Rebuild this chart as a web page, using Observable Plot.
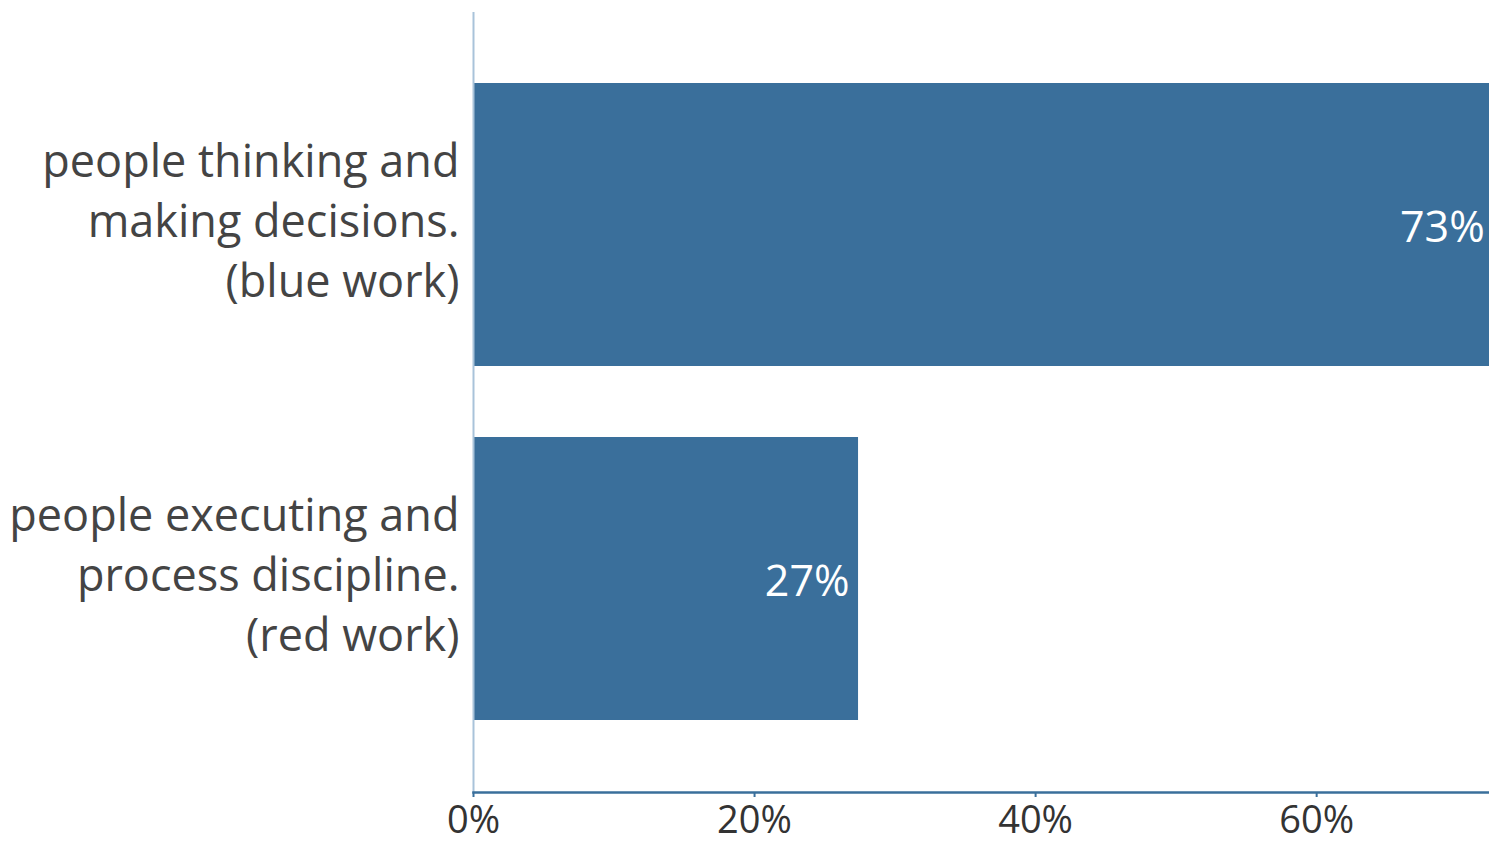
<!DOCTYPE html>
<html>
<head>
<meta charset="utf-8">
<script src="https://cdn.jsdelivr.net/npm/d3@7"></script>
<script src="https://cdn.jsdelivr.net/npm/@observablehq/plot@0.6"></script>
<style>
  html, body { margin: 0; padding: 0; background: #fff; overflow: hidden; }
  #chart svg { display: block; }
</style>
</head>
<body>
<div id="chart"></div>
<script>
const categories = [
  "people thinking and\nmaking decisions.\n(blue work)",
  "people executing and\nprocess discipline.\n(red work)"
];
const shares = [0.726, 0.274];
const valueLabels = ["73%", "27%"];
const xTicks = [0, 0.2, 0.4, 0.6];

const data = categories.map((c, i) => ({category: c, share: shares[i], label: valueLabels[i]}));
const barColor = "#3a6f9b";

const chart = Plot.plot({
  width: 1489,
  height: 846,
  marginTop: 12,
  marginBottom: 54,
  marginLeft: 473,
  marginRight: 0,
  style: {fontFamily: "'Open Sans', 'Noto Sans', sans-serif", background: "#fff", overflow: "hidden"},
  x: {domain: [0, 0.723], ticks: xTicks, tickFormat: d3.format(".0%")},
  y: {domain: categories, padding: 0.2},
  marks: [
    Plot.barX(data, {y: "category", x: "share", fill: barColor, clip: true}),
    Plot.text(data, {y: "category", x: "share", text: "label", textAnchor: "end", dx: -9, dy: 3, fill: "#fff", fontSize: 43}),
    Plot.ruleX([0], {stroke: "#a9c3da", strokeWidth: 2}),
    Plot.frame({anchor: "bottom", stroke: barColor, strokeWidth: 2.5}),
    Plot.axisX({ticks: xTicks, tickFormat: d3.format(".0%"), tickSize: 5, stroke: barColor, strokeWidth: 2, fontSize: 38, fill: "#333", tickPadding: 9, label: null}),
    Plot.axisY({tickSize: 0, tickPadding: 14, fontSize: 45, fill: "#444", label: null, lineHeight: 1.333, dy: -7})
  ]
});
document.getElementById("chart").appendChild(chart);
</script>
</body>
</html>
